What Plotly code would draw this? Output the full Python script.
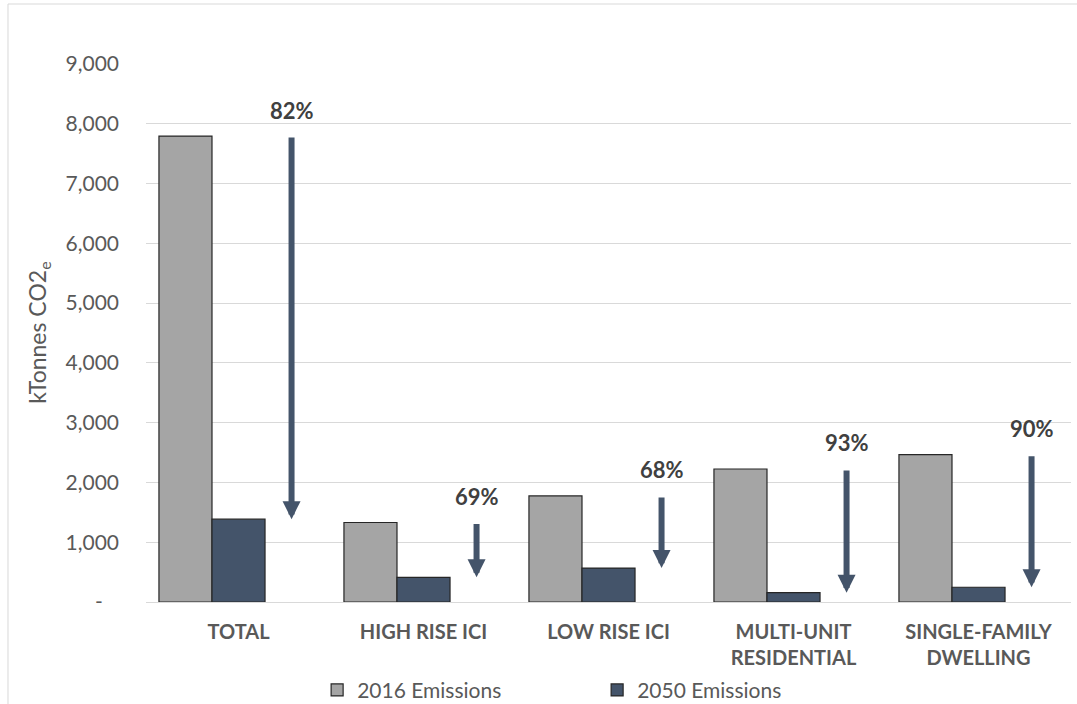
import plotly.graph_objects as go

# Building-sector emissions, kTonnes CO2e
categories = ["TOTAL", "HIGH RISE ICI", "LOW RISE ICI", "MULTI-UNIT<br>RESIDENTIAL", "SINGLE-FAMILY<br>DWELLING"]
emissions_2016 = [7795, 1330, 1775, 2225, 2465]
emissions_2050 = [1385, 412, 568, 156, 247]
reduction_labels = ["82%", "69%", "68%", "93%", "90%"]

y_tickvals = [0, 1000, 2000, 3000, 4000, 5000, 6000, 7000, 8000, 9000]
y_ticktext = ["-\u00a0\u00a0\u00a0", "1,000", "2,000", "3,000", "4,000", "5,000",
              "6,000", "7,000", "8,000", "9,000"]

GREY = "#A5A5A5"
SLATE = "#44546A"
OUTLINE = "#262626"
TEXT = "#595959"
FONT = "Lato"

BAR_W = 0.2867          # each bar's share of a category slot
GROUP_LEFT = -0.43      # left edge of the bar group relative to the category centre

xs = list(range(len(categories)))

fig = go.Figure()
fig.add_trace(go.Bar(
    name="2016 Emissions", x=xs, y=emissions_2016,
    width=BAR_W, offset=GROUP_LEFT,
    marker=dict(color=GREY, line=dict(color=OUTLINE, width=1.2)),
))
fig.add_trace(go.Bar(
    name="2050 Emissions", x=xs, y=emissions_2050,
    width=BAR_W, offset=GROUP_LEFT + BAR_W,
    marker=dict(color=SLATE, line=dict(color=OUTLINE, width=1.2)),
))

# Reduction arrows from the 2016 level down to the 2050 level, with the percentage above
arrow_dx = GROUP_LEFT + 2.5 * BAR_W
annotations = []
for i, (a, b, lab) in enumerate(zip(emissions_2016, emissions_2050, reduction_labels)):
    annotations.append(dict(
        x=i + arrow_dx, y=b, xref="x", yref="y",
        ax=i + arrow_dx, ay=a, axref="x", ayref="y",
        text="", showarrow=True, arrowhead=2, arrowsize=0.6,
        arrowwidth=6, arrowcolor=SLATE, standoff=0, startstandoff=0,
    ))
    annotations.append(dict(
        x=i + arrow_dx, y=a, xref="x", yref="y", yshift=26,
        text=f"<b>{lab}</b>", showarrow=False,
        font=dict(family=FONT, size=22, color="#404040"),
        xanchor="center", yanchor="middle",
    ))

# Rotated value-axis title
annotations.append(dict(
    x=-0.117, y=0.5, xref="paper", yref="paper",
    text="kTonnes CO2<sub>e</sub>", showarrow=False, textangle=-90,
    font=dict(family=FONT, size=23, color=TEXT),
    xanchor="center", yanchor="middle",
))

shapes = [
    # outer chart frame
    dict(type="rect", xref="paper", yref="paper",
         x0=-0.1492, x1=1.2, y0=-0.4, y1=1.1115,
         line=dict(color="#D9D9D9", width=1), fillcolor="rgba(0,0,0,0)", layer="below"),
    # blank band over most of the top gridline
    dict(type="rect", xref="paper", yref="y",
         x0=0.004, x1=0.975, y0=8900, y1=9100,
         line=dict(width=0), fillcolor="white", layer="above"),
]

fig.update_layout(
    width=1077, height=704,
    margin=dict(l=146, r=6, t=64, b=102, autoexpand=False),
    paper_bgcolor="white", plot_bgcolor="white",
    font=dict(family=FONT, color=TEXT),
    bargap=0.14,
    showlegend=True,
    legend=dict(
        orientation="h", x=0.185, xanchor="left", y=-0.164, yanchor="middle",
        font=dict(family=FONT, size=21, color=TEXT),
        entrywidth=235, entrywidthmode="pixels",
        itemclick=False, itemdoubleclick=False,
    ),
    xaxis=dict(
        tickmode="array", tickvals=xs, ticktext=[f"<b>{c}</b>" for c in categories],
        range=[-0.5, len(categories) - 0.5],
        showgrid=False, showline=False, zeroline=False, ticks="",
        tickfont=dict(family=FONT, size=20, color=TEXT),
        ticklabelstandoff=16,
    ),
    yaxis=dict(
        range=[0, 9000], tickvals=y_tickvals, ticktext=y_ticktext,
        showgrid=True, gridcolor="#D9D9D9", gridwidth=1,
        zeroline=True, zerolinecolor="#D9D9D9", zerolinewidth=1,
        showline=False, ticks="",
        tickfont=dict(family=FONT, size=21, color=TEXT),
        ticklabelstandoff=26,
    ),
    annotations=annotations,
    shapes=shapes,
)

fig.write_html("out.html")
